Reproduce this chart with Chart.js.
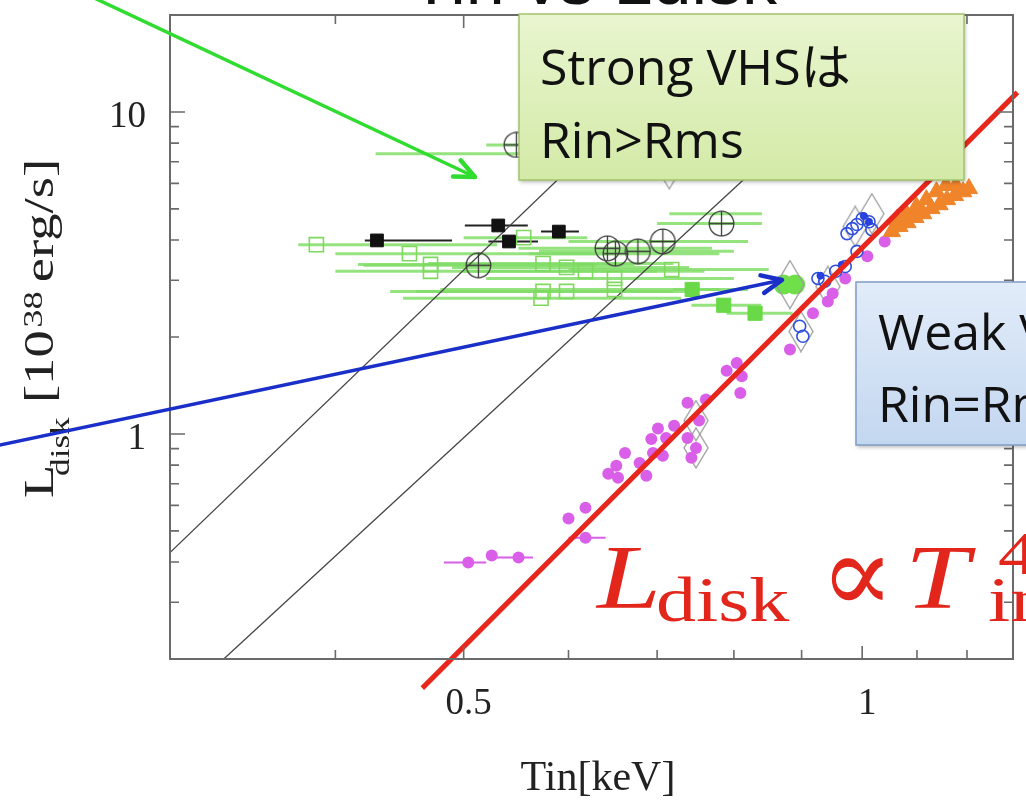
<!DOCTYPE html>
<html><head><meta charset="utf-8">
<script src="https://cdn.jsdelivr.net/npm/chart.js@4.4.1/dist/chart.umd.min.js"></script>
<style>html,body{margin:0;padding:0;background:#fff;overflow:hidden}canvas{display:block}</style>
</head><body>
<canvas id="c" width="1026" height="800"></canvas>
<script>
// ---------- axis ticks ----------
const xLabeledTicks = [0.5, 1];
const xLabelText = ['0.5', '1'];
const xMinorTicks = [0.4, 0.5, 0.6, 0.7, 0.8, 0.9, 1.0, 1.1, 1.2];
const yLabeledTicks = [1, 10];
const yLabelText = ['1', '10'];
const yMinorTicks = [0.3, 0.4, 0.5, 0.6, 0.7, 0.8, 0.9, 1, 2, 3, 4, 5, 6, 7, 8, 9, 10];

// ---------- lines ----------
const redLineT = [0.4653, 1.31];
const redLineL = [0.1624, 11.5];
const rin1T = [0.3, 0.793];
const rin1L = [0.428, 20];
const rin2T = [0.3294, 1.11];
const rin2L = [0.2, 20];

// ---------- black filled squares ----------
const blkT = [0.430, 0.531, 0.541, 0.590];
const blkL = [3.99, 4.44, 3.96, 4.25];
const blkLo = [0.421, 0.501, 0.522, 0.572];
const blkHi = [0.490, 0.559, 0.569, 0.611];

// ---------- circled crosses ----------
const crsT = [0.513, 0.642, 0.651, 0.677, 0.707, 0.783, 0.548];
const crsL = [3.34, 3.77, 3.63, 3.69, 3.96, 4.50, 7.90];
const crsLo = [0.42, 0.55, 0.56, 0.57, 0.60, 0.70, 0.52];
const crsHi = [0.63, 0.77, 0.78, 0.80, 0.82, 0.84, 0.62];

// ---------- green bars without visible marker ----------
const gBarT = [0.60, 0.76];
const gBarL = [7.41, 4.83];
const gBarLo = [0.429, 0.715];
const gBarHi = [0.75, 0.84];

// ---------- green open squares ----------
const gOpenT = [0.387, 0.455, 0.472, 0.472, 0.555, 0.574, 0.598, 0.618, 0.650, 0.718, 0.574, 0.598, 0.572, 0.650];
const gOpenL = [3.87, 3.63, 3.36, 3.20, 4.07, 3.38, 3.29, 3.20, 3.04, 3.24, 2.77, 2.77, 2.64, 2.81];
const gOpenLo = [0.375, 0.40, 0.416, 0.40, 0.50, 0.47, 0.49, 0.50, 0.52, 0.60, 0.44, 0.46, 0.45, 0.48];
const gOpenHi = [0.53, 0.65, 0.673, 0.70, 0.62, 0.72, 0.74, 0.76, 0.80, 0.85, 0.72, 0.75, 0.73, 0.78];

// ---------- green filled squares ----------
const gFillT = [0.744, 0.786, 0.830];
const gFillL = [2.81, 2.51, 2.37];
const gFillLo = [0.72, 0.743, 0.79];
const gFillHi = [0.82, 0.839, 0.886];

// ---------- green big filled ----------
const gBigT = [0.872, 0.890];
const gBigL = [2.91, 2.91];

// ---------- gray diamonds ----------
const diaT = [0.715, 0.988, 1.017, 0.899, 0.749, 0.749, 0.942];
const diaL = [6.66, 4.41, 4.83, 2.08, 1.10, 0.905, 2.87];
const bigDiaT = [0.882];
const bigDiaL = [2.91];

// ---------- blue ----------
const blueT = [0.926, 0.937, 0.955, 0.971, 0.991, 0.897, 0.902, 0.991, 0.983, 1.012, 1.017, 1.000, 0.974];
const blueL = [3.04, 2.98, 3.20, 3.31, 3.69, 2.16, 2.01, 4.47, 4.34, 4.56, 4.31, 4.66, 4.19];
const blueFT = [1.012, 1.003, 0.965, 0.930];
const blueFL = [4.56, 4.75, 3.35, 3.10];

// ---------- magenta ----------
const magT = [0.600, 0.618, 0.643, 0.654, 0.652, 0.662, 0.679, 0.687, 0.693, 0.701, 0.695, 0.707, 0.711, 0.721, 0.738, 0.762, 0.753, 0.738, 0.749, 0.743, 0.790, 0.804, 0.811, 0.809, 0.882, 0.525, 0.918, 0.942, 0.950, 1.040, 1.009, 0.971];
const magL = [0.546, 0.590, 0.752, 0.731, 0.796, 0.873, 0.813, 0.741, 0.965, 1.04, 0.873, 0.855, 0.972, 1.06, 1.25, 1.28, 1.10, 0.972, 0.905, 0.843, 1.57, 1.66, 1.51, 1.34, 1.83, 0.419, 2.37, 2.58, 2.73, 3.96, 3.56, 3.04];
const magBT = [0.504, 0.550, 0.618];
const magBL = [0.399, 0.413, 0.476];
const magBLo = [0.483, 0.525, 0.600];
const magBHi = [0.520, 0.564, 0.640];

// ---------- orange triangles ----------
const orT = [1.053, 1.067, 1.082, 1.097, 1.112, 1.128, 1.144, 1.159, 1.175, 1.192, 1.204, 1.062, 1.080, 1.099, 1.118, 1.138, 1.157, 1.177];
const orL = [4.25, 4.41, 4.53, 4.70, 4.83, 5.01, 5.15, 5.34, 5.50, 5.65, 5.78, 4.63, 4.83, 5.08, 5.34, 5.65, 5.91, 5.91];

const pts = (xs, ys) => xs.map((x, i) => ({x: x, y: ys[i]}));

function makeDiamond(w, h, color, lw) {
  const c = document.createElement('canvas'); c.width = w; c.height = h;
  const g = c.getContext('2d'); g.strokeStyle = color; g.lineWidth = lw;
  g.beginPath(); g.moveTo(w / 2, 1); g.lineTo(w - 1, h / 2); g.lineTo(w / 2, h - 1); g.lineTo(1, h / 2); g.closePath(); g.stroke();
  return c;
}
function makeCrossCircle(d, color, lw) {
  const c = document.createElement('canvas'); c.width = d; c.height = d;
  const g = c.getContext('2d'); g.strokeStyle = color; g.lineWidth = lw;
  g.beginPath(); g.arc(d / 2, d / 2, d / 2 - 1.2, 0, Math.PI * 2); g.stroke();
  g.beginPath(); g.moveTo(d / 2, 1); g.lineTo(d / 2, d - 1); g.moveTo(1, d / 2); g.lineTo(d - 1, d / 2); g.stroke();
  return c;
}
const diamondImg = makeDiamond(26, 42, '#9c9c9c', 1.3);
const bigDiamondImg = makeDiamond(30, 50, '#9c9c9c', 1.3);
const crossImg = makeCrossCircle(27, '#3c3c3c', 1.3);

const GREEN_BAR = 'rgba(130,222,105,0.85)';

const errorBars = {
  id: 'errorBars',
  beforeDatasetsDraw(chart) {
    const ctx = chart.ctx, xs = chart.scales.x, ca = chart.chartArea;
    ctx.save();
    ctx.beginPath(); ctx.rect(ca.left, ca.top, ca.right - ca.left, ca.bottom - ca.top); ctx.clip();
    const dss = chart.data.datasets;
    for (let di = dss.length - 1; di >= 0; di--) {
      const ds = dss[di];
      if (!ds.errLo) continue;
      const meta = chart.getDatasetMeta(di);
      ctx.strokeStyle = ds.errColor; ctx.lineWidth = ds.errWidth;
      meta.data.forEach((pt, i) => {
        const x1 = xs.getPixelForValue(ds.errLo[i]), x2 = xs.getPixelForValue(ds.errHi[i]);
        ctx.beginPath(); ctx.moveTo(x1, pt.y); ctx.lineTo(x2, pt.y); ctx.stroke();
      });
    }
    ctx.restore();
  }
};

const frameTicks = {
  id: 'frameTicks',
  afterDatasetsDraw(chart) {
    const ctx = chart.ctx, ca = chart.chartArea, xs = chart.scales.x, ys = chart.scales.y;
    ctx.save();
    ctx.strokeStyle = '#6a6a6a'; ctx.lineWidth = 2;
    ctx.strokeRect(ca.left, ca.top, ca.right - ca.left, ca.bottom - ca.top);
    ctx.lineWidth = 1.6;
    xMinorTicks.forEach(v => {
      const px = xs.getPixelForValue(v);
      const len = xLabeledTicks.some(t => Math.abs(t - v) < 1e-9) ? 13 : 9;
      ctx.beginPath(); ctx.moveTo(px, ca.bottom); ctx.lineTo(px, ca.bottom - len);
      ctx.moveTo(px, ca.top); ctx.lineTo(px, ca.top + len); ctx.stroke();
    });
    yMinorTicks.forEach(v => {
      const py = ys.getPixelForValue(v);
      const len = yLabeledTicks.some(t => Math.abs(t - v) < 1e-9) ? 15 : 9;
      ctx.beginPath(); ctx.moveTo(ca.left, py); ctx.lineTo(ca.left + len, py);
      ctx.moveTo(ca.right, py); ctx.lineTo(ca.right - len, py); ctx.stroke();
    });
    ctx.restore();
  }
};

function arrow(ctx, x1, y1, x2, y2, color, w, head, ang) {
  ctx.save();
  ctx.strokeStyle = color; ctx.lineWidth = w; ctx.lineCap = 'round'; ctx.lineJoin = 'round';
  ctx.beginPath(); ctx.moveTo(x1, y1); ctx.lineTo(x2, y2); ctx.stroke();
  const a = Math.atan2(y2 - y1, x2 - x1);
  ctx.lineWidth = w + 1;
  ctx.beginPath();
  ctx.moveTo(x2 - head * Math.cos(a - ang), y2 - head * Math.sin(a - ang));
  ctx.lineTo(x2, y2);
  ctx.lineTo(x2 - head * Math.cos(a + ang), y2 - head * Math.sin(a + ang));
  ctx.stroke();
  ctx.restore();
}
function box(ctx, x, y, w, h, c1, c2, border) {
  ctx.save();
  const g = ctx.createLinearGradient(0, y, 0, y + h);
  g.addColorStop(0, c1); g.addColorStop(1, c2);
  ctx.shadowColor = 'rgba(0,0,0,0.3)'; ctx.shadowBlur = 4; ctx.shadowOffsetX = 1; ctx.shadowOffsetY = 2;
  ctx.fillStyle = g; ctx.fillRect(x, y, w, h);
  ctx.shadowColor = 'transparent';
  ctx.strokeStyle = border; ctx.lineWidth = 1.5; ctx.strokeRect(x, y, w, h);
  ctx.restore();
}
function stext(ctx, str, x, y, font, sx, color) {
  ctx.save(); ctx.translate(x, y); ctx.scale(sx, 1);
  ctx.font = font; ctx.fillStyle = color; ctx.textBaseline = 'alphabetic'; ctx.textAlign = 'left';
  ctx.fillText(str, 0, 0); ctx.restore();
}

const annotations = {
  id: 'annotations',
  afterDraw(chart) {
    const ctx = chart.ctx;
    // title (cut off at the top)
    stext(ctx, 'Tin vs Ldisk', 410, 4, '70px "Liberation Sans"', 1, '#111');
    // x title
    ctx.save();
    ctx.font = '42px "Liberation Serif"'; ctx.fillStyle = '#222'; ctx.textAlign = 'center'; ctx.textBaseline = 'alphabetic';
    ctx.fillText('Tin[keV]', 598, 790);
    ctx.restore();
    // y title
    ctx.save();
    ctx.translate(53, 498); ctx.rotate(-Math.PI / 2); ctx.scale(1.3, 1);
    ctx.fillStyle = '#222'; ctx.textBaseline = 'alphabetic'; ctx.textAlign = 'left';
    ctx.font = '42px "Liberation Serif"'; ctx.fillText('L', 0, 0);
    ctx.font = '27px "Liberation Serif"'; ctx.fillText('disk', 17, 16);
    ctx.font = '42px "Liberation Serif"'; ctx.fillText('[10', 73, 0);
    ctx.font = '28px "Liberation Serif"'; ctx.fillText('38', 131, -11);
    ctx.font = '42px "Liberation Serif"'; ctx.fillText('erg/s]', 166, 0);
    ctx.restore();

    // green annotation box
    box(ctx, 519, 14, 445, 166, '#e9f5cf', '#d3eaa7', '#a3c46c');
    const bf = '50px "Open Sans", "Noto Sans CJK JP", sans-serif';
    stext(ctx, 'Strong VHSは', 540, 85, bf, 1, '#111');
    stext(ctx, 'Rin>Rms', 540, 158, bf, 1, '#111');
    // blue annotation box
    box(ctx, 856, 282, 190, 163, '#e2ecf9', '#c3d7f0', '#7f9dc6');
    stext(ctx, 'Weak VHSは', 878, 350, bf, 1, '#111');
    stext(ctx, 'Rin=Rms', 878, 422, bf, 1, '#111');

    // red formula
    const red = '#e2261b';
    stext(ctx, 'L', 597, 608, 'italic 92px "Liberation Serif"', 1.25, red);
    stext(ctx, 'disk', 656, 621, '64px "Liberation Serif"', 1.25, red);
    stext(ctx, '\u221D', 820, 612, '110px "DejaVu Serif"', 1, red);
    stext(ctx, 'T', 905, 608, 'italic 92px "Liberation Serif"', 1.25, red);
    stext(ctx, '4', 998, 574, '62px "Liberation Serif"', 1.25, red);
    stext(ctx, 'in', 988, 621, '64px "Liberation Serif"', 1.25, red);

    // arrows
    arrow(ctx, 90, -4, 475, 177, '#2fdc2f', 3.5, 22, 0.42);
    arrow(ctx, -5, 446, 782, 280, '#1a2fc8', 3.5, 22, 0.42);
  }
};

function zeroPad(s) { s.paddingTop = 0; s.paddingBottom = 0; s.paddingLeft = 0; s.paddingRight = 0; }

const cfg = {
  type: 'scatter',
  data: {
    datasets: [
      {label: 'red', data: pts(redLineT, redLineL), showLine: true, borderColor: '#e8261b', borderWidth: 5, pointRadius: 0, clip: false, fill: false},
      {label: 'orange', data: pts(orT, orL), pointStyle: 'triangle', pointRadius: 10, backgroundColor: '#f0842a', borderColor: '#f0842a', borderWidth: 1},
      {label: 'blueF', data: pts(blueFT, blueFL), pointStyle: 'circle', pointRadius: 3.5, backgroundColor: '#2740e0', borderColor: '#2740e0', borderWidth: 1},
      {label: 'blue', data: pts(blueT, blueL), pointStyle: 'circle', pointRadius: 6, backgroundColor: 'rgba(0,0,0,0)', borderColor: '#3050dc', borderWidth: 1.6},
      {label: 'magenta', data: pts(magT, magL), pointStyle: 'circle', pointRadius: 6, backgroundColor: '#da5fe8', borderColor: '#da5fe8', borderWidth: 0},
      {label: 'magentaBars', data: pts(magBT, magBL), pointStyle: 'circle', pointRadius: 6, backgroundColor: '#da5fe8', borderColor: '#da5fe8', borderWidth: 0,
        errLo: magBLo, errHi: magBHi, errColor: '#da5fe8', errWidth: 2},
      {label: 'diamonds', data: pts(diaT, diaL), pointStyle: diamondImg, pointRadius: 10},
      {label: 'bigDiamond', data: pts(bigDiaT, bigDiaL), pointStyle: bigDiamondImg, pointRadius: 10},
      {label: 'greenBig', data: pts(gBigT, gBigL), pointStyle: 'circle', pointRadius: 10, backgroundColor: '#6fe04a', borderColor: '#6fe04a', borderWidth: 0},
      {label: 'black', data: pts(blkT, blkL), pointStyle: 'rect', pointRadius: 9, backgroundColor: '#111', borderColor: '#111', borderWidth: 1,
        errLo: blkLo, errHi: blkHi, errColor: '#222', errWidth: 2},
      {label: 'circCross', data: pts(crsT, crsL), pointStyle: crossImg, pointRadius: 12,
        errLo: crsLo, errHi: crsHi, errColor: GREEN_BAR, errWidth: 3},
      {label: 'greenFilled', data: pts(gFillT, gFillL), pointStyle: 'rect', pointRadius: 10, backgroundColor: '#6ad947', borderColor: '#6ad947', borderWidth: 1,
        errLo: gFillLo, errHi: gFillHi, errColor: GREEN_BAR, errWidth: 3},
      {label: 'greenOpen', data: pts(gOpenT, gOpenL), pointStyle: 'rect', pointRadius: 10, backgroundColor: 'rgba(0,0,0,0)', borderColor: '#7fd95f', borderWidth: 1.6,
        errLo: gOpenLo, errHi: gOpenHi, errColor: GREEN_BAR, errWidth: 3},
      {label: 'greenBars', data: pts(gBarT, gBarL), pointRadius: 0,
        errLo: gBarLo, errHi: gBarHi, errColor: GREEN_BAR, errWidth: 3},
      {label: 'rin1', data: pts(rin1T, rin1L), showLine: true, borderColor: '#444', borderWidth: 1.3, pointRadius: 0, fill: false},
      {label: 'rin2', data: pts(rin2T, rin2L), showLine: true, borderColor: '#444', borderWidth: 1.3, pointRadius: 0, fill: false}
    ]
  },
  options: {
    responsive: false, animation: false, devicePixelRatio: 1, events: [],
    layout: {padding: {top: 15, right: 6, left: 0, bottom: 0}},
    plugins: {legend: {display: false}, tooltip: {enabled: false}},
    scales: {
      x: {
        type: 'logarithmic', min: 0.3, max: 1.3, position: 'bottom',
        grid: {display: false, drawTicks: false}, border: {display: false},
        afterFit(s) { s.height = 141; zeroPad(s); },
        afterBuildTicks(s) { s.ticks = xLabeledTicks.map(v => ({value: v})); },
        ticks: {
          autoSkip: false, maxRotation: 0, minRotation: 0, padding: 23, labelOffset: 5, color: '#222',
          font: {family: 'Liberation Serif', size: 37},
          callback: (v) => { const i = xLabeledTicks.findIndex(t => Math.abs(t - v) < 1e-9); return i >= 0 ? xLabelText[i] : ''; }
        }
      },
      y: {
        type: 'logarithmic', min: 0.2, max: 20, position: 'left',
        grid: {display: false, drawTicks: false}, border: {display: false},
        afterFit(s) { s.width = 170; zeroPad(s); },
        afterBuildTicks(s) { s.ticks = yLabeledTicks.map(v => ({value: v})); },
        ticks: {
          autoSkip: false, padding: 24, labelOffset: 5, color: '#222',
          font: {family: 'Liberation Serif', size: 37},
          callback: (v) => { const i = yLabeledTicks.findIndex(t => Math.abs(t - v) < 1e-9); return i >= 0 ? yLabelText[i] : ''; }
        }
      }
    }
  },
  plugins: [errorBars, frameTicks, annotations]
};
new Chart(document.getElementById('c').getContext('2d'), cfg);
</script>
</body></html>
